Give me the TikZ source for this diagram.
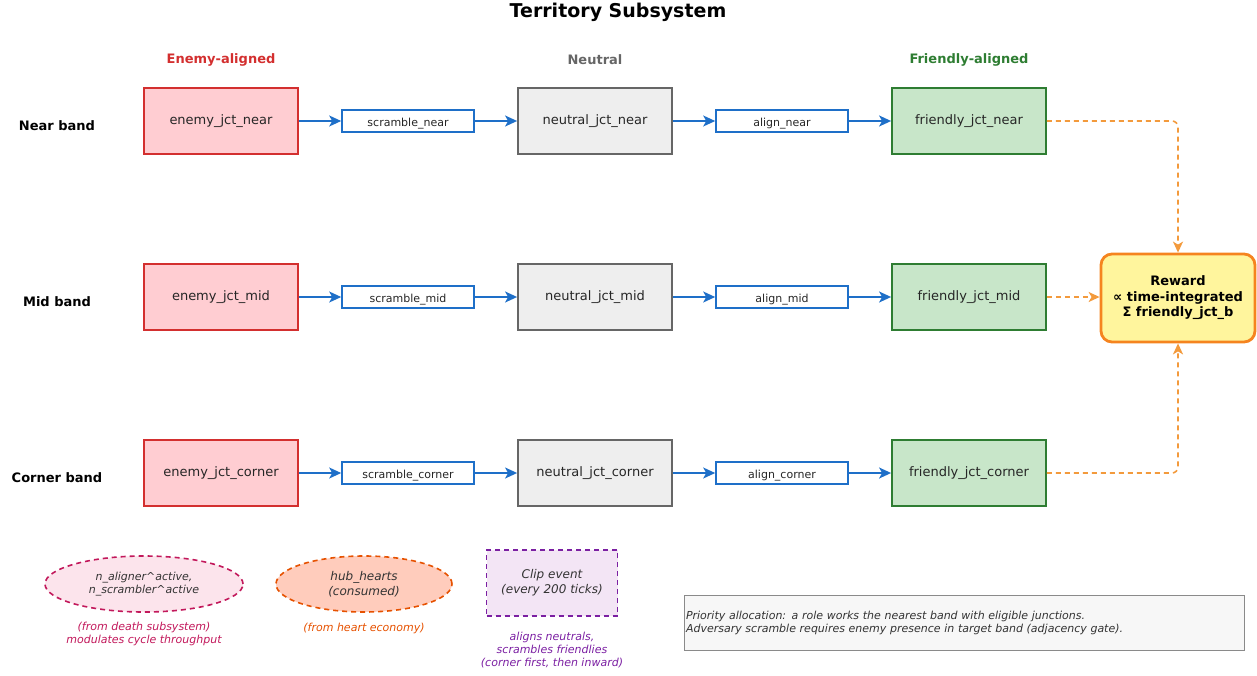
\documentclass[tikz,border=0pt]{standalone}
\usepackage{fontspec}
\setmainfont{DejaVu Sans}
\usetikzlibrary{arrows.meta,shapes.geometric}

\definecolor{enemyfill}{HTML}{FFCDD2}
\definecolor{enemyline}{HTML}{D32F2F}
\definecolor{neutralfill}{HTML}{EEEEEE}
\definecolor{neutralline}{HTML}{666666}
\definecolor{friendfill}{HTML}{C8E6C9}
\definecolor{friendline}{HTML}{2E7D32}
\definecolor{flowblue}{HTML}{1E6FC8}
\definecolor{rewardfill}{HTML}{FFF59D}
\definecolor{rewardline}{HTML}{F5841F}
\definecolor{rewardflow}{HTML}{F39A3C}
\definecolor{deathfill}{HTML}{FCE4EC}
\definecolor{deathline}{HTML}{C2185B}
\definecolor{heartfill}{HTML}{FFCCBC}
\definecolor{heartline}{HTML}{E65100}
\definecolor{clipfill}{HTML}{F3E5F5}
\definecolor{clipline}{HTML}{7B1FA2}
\definecolor{notefill}{HTML}{F7F7F7}
\definecolor{noteline}{HTML}{8A8A8A}

\tikzset{
  jct/.style={draw, line width=1.8pt, minimum width=154pt, minimum height=66pt,
    inner sep=0pt, font=\fontsize{13}{16}\selectfont, text=black!85},
  enemyjct/.style={jct, fill=enemyfill, draw=enemyline},
  neutraljct/.style={jct, fill=neutralfill, draw=neutralline},
  friendjct/.style={jct, fill=friendfill, draw=friendline},
  action/.style={draw=flowblue, fill=white, line width=1.6pt, minimum width=132pt,
    minimum height=22pt, inner sep=0pt, text height=11pt, text depth=-2pt,
    font=\fontsize{11}{13}\selectfont, text=black!85},
  flow/.style={draw=flowblue, line width=1.6pt, -{Stealth[length=12pt,width=11pt,inset=3pt]}},
  rflow/.style={draw=rewardflow, line width=1.6pt, dash pattern=on 5pt off 4pt,
    rounded corners=6pt, -{Stealth[length=11pt,width=10pt,inset=3pt]}},
  header/.style={font=\fontsize{13}{16}\selectfont\bfseries},
  bandlabel/.style={font=\fontsize{13}{16}\selectfont\bfseries, text=black},
  small/.style={font=\fontsize{11}{13}\selectfont\itshape, align=center},
}

\begin{document}
\begin{tikzpicture}[x=1pt,y=-1pt]
\useasboundingbox (0,0) rectangle (1257,675);

% title and column headers
\node[font=\fontsize{19}{22}\selectfont\bfseries] (title) at (618,12) {Territory Subsystem};
\node[header, text=enemyline] (hEnemy) at (221,60) {Enemy-aligned};
\node[header, text=neutralline] (hNeutral) at (595,60) {Neutral};
\node[header, text=friendline] (hFriend) at (969,60) {Friendly-aligned};

% band labels
\node[bandlabel] (lNear) at (57,126) {Near band};
\node[bandlabel] (lMid) at (57,302) {Mid band};
\node[bandlabel] (lCorner) at (57,478) {Corner band};

% near band
\node[enemyjct] (eNear) at (221,121) {enemy\_jct\_near};
\node[action] (sNear) at (408,121) {scramble\_near};
\node[neutraljct] (nNear) at (595,121) {neutral\_jct\_near};
\node[action] (aNear) at (782,121) {align\_near};
\node[friendjct] (fNear) at (969,121) {friendly\_jct\_near};

% mid band
\node[enemyjct] (eMid) at (221,297) {enemy\_jct\_mid};
\node[action] (sMid) at (408,297) {scramble\_mid};
\node[neutraljct] (nMid) at (595,297) {neutral\_jct\_mid};
\node[action] (aMid) at (782,297) {align\_mid};
\node[friendjct] (fMid) at (969,297) {friendly\_jct\_mid};

% corner band
\node[enemyjct] (eCorner) at (221,473) {enemy\_jct\_corner};
\node[action] (sCorner) at (408,473) {scramble\_corner};
\node[neutraljct] (nCorner) at (595,473) {neutral\_jct\_corner};
\node[action] (aCorner) at (782,473) {align\_corner};
\node[friendjct] (fCorner) at (969,473) {friendly\_jct\_corner};

% reward
\node[draw=rewardline, fill=rewardfill, line width=2.8pt, rounded corners=11pt,
  minimum width=154pt, minimum height=88pt, inner sep=0pt, align=center,
  font=\fontsize{13}{15.5}\selectfont\bfseries] (reward) at (1178,298)
  {Reward\\∝ time-integrated\\Σ friendly\_jct\_b};

% transitions
\foreach \b in {Near,Mid,Corner}{
  \draw[flow] (e\b.east) -- (s\b.west);
  \draw[flow] (s\b.east) -- (n\b.west);
  \draw[flow] (n\b.east) -- (a\b.west);
  \draw[flow] (a\b.east) -- (f\b.west);
}

% reward contributions
\draw[rflow] (fNear.east) -| (reward.north);
\draw[rflow] (fMid.east) -- (fMid.east -| reward.west);
\draw[rflow] (fCorner.east) -| (reward.south);

% external influences
\node[ellipse, draw=deathline, fill=deathfill, line width=1.6pt, dash pattern=on 5pt off 4pt,
  minimum width=198pt, minimum height=56pt, inner sep=0pt, small, text=black!80] (death) at (144,584)
  {n\_aligner\textasciicircum active,\\n\_scrambler\textasciicircum active};
\node[small, text=deathline] (deathNote) at (144,634)
  {(from death subsystem)\\modulates cycle throughput};

\node[ellipse, draw=heartline, fill=heartfill, line width=1.6pt, dash pattern=on 5pt off 4pt,
  minimum width=176pt, minimum height=56pt, inner sep=0pt,
  font=\fontsize{12}{15}\selectfont\itshape, align=center, text=black!80] (hearts) at (364,584)
  {hub\_hearts\\(consumed)};
\node[small, text=heartline] (heartNote) at (364,628) {(from heart economy)};

\node[draw=clipline, fill=clipfill, line width=1.6pt, dash pattern=on 5pt off 4pt,
  minimum width=131pt, minimum height=66pt, inner sep=0pt,
  font=\fontsize{12}{15}\selectfont\itshape, align=center, text=black!80] (clip) at (552,583)
  {Clip event\\(every 200 ticks)};
\node[small, text=clipline] (clipNote) at (552,650)
  {aligns neutrals,\\scrambles friendlies\\(corner first, then inward)};

% priority note
\node[draw=noteline, fill=notefill, line width=0.9pt, minimum height=55pt,
  text width=556pt, inner xsep=2pt, inner ysep=0pt, align=left,
  font=\fontsize{11}{13}\selectfont\itshape, text=black!80] (note) at (964,622.5)
  {Priority allocation: a role works the nearest band with eligible junctions.\\
   Adversary scramble requires enemy presence in target band (adjacency gate).};
\end{tikzpicture}
\end{document}
